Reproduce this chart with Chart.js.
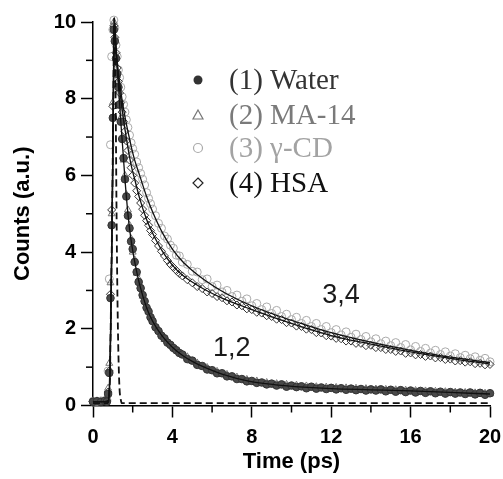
<!DOCTYPE html>
<html>
<head>
<meta charset="utf-8">
<script src="https://cdn.jsdelivr.net/npm/chart.js"></script>
<style>
  html, body { margin: 0; padding: 0; background: #fff; }
  #wrap { width: 503px; height: 479px; }
</style>
</head>
<body>
<div id="wrap"><canvas id="decay" width="503" height="479"></canvas></div>
<script>
// time axis of the measured points (ps)
const times = [
  0, 0.2, 0.4, 0.6, 0.7, 0.76, 0.82, 0.88, 0.94, 1.0,
  1.05, 1.1, 1.16, 1.22, 1.28, 1.34, 1.4, 1.47, 1.54, 1.61,
  1.68, 1.76, 1.84, 1.92, 2.0, 2.1, 2.2, 2.3, 2.4, 2.5,
  2.6, 2.7, 2.8, 2.9, 3.0, 3.15, 3.3, 3.45, 3.6, 3.75,
  3.9, 4.05, 4.2, 4.35, 4.5,
  4.75, 5.0, 5.25, 5.5, 5.75, 6.0, 6.25, 6.5, 6.75, 7.0,
  7.25, 7.5, 7.75, 8.0, 8.25, 8.5, 8.75, 9.0, 9.25, 9.5,
  9.75, 10.0, 10.25, 10.5, 10.75, 11.0, 11.25, 11.5, 11.75, 12.0,
  12.25, 12.5, 12.75, 13.0, 13.25, 13.5, 13.75, 14.0, 14.25, 14.5,
  14.75, 15.0, 15.25, 15.5, 15.75, 16.0, 16.25, 16.5, 16.75, 17.0,
  17.25, 17.5, 17.75, 18.0, 18.25, 18.5, 18.75, 19.0, 19.25, 19.5,
  19.75, 20.0
];

// (1) Water
const water = [
  0.10, 0.11, 0.09, 0.12, 0.10, 0.30, 0.85, 2.80, 4.70, 7.50,
  9.80, 9.50, 9.05, 8.65, 8.30, 7.85, 7.40, 6.95, 6.45, 5.90,
  5.45, 4.95, 4.62, 4.28, 4.08, 3.74, 3.48, 3.22, 3.06, 2.88,
  2.72, 2.55, 2.45, 2.30, 2.20, 2.04, 1.94, 1.82, 1.75, 1.64,
  1.58, 1.50, 1.44, 1.37, 1.33,
  1.21, 1.17, 1.06, 1.03, 0.94, 0.92, 0.84, 0.84, 0.76, 0.76,
  0.69, 0.69, 0.63, 0.64, 0.59, 0.60, 0.55, 0.57, 0.52, 0.55,
  0.49, 0.52, 0.48, 0.50, 0.45, 0.49, 0.44, 0.47, 0.43, 0.46,
  0.42, 0.45, 0.41, 0.44, 0.40, 0.43, 0.39, 0.42, 0.39, 0.42,
  0.37, 0.41, 0.36, 0.40, 0.35, 0.39, 0.34, 0.38, 0.33, 0.37,
  0.32, 0.36, 0.31, 0.35, 0.31, 0.34, 0.30, 0.34, 0.29, 0.33,
  0.28, 0.32
];

// (2) MA-14
const ma14 = [
  0.12, 0.10, 0.11, 0.10, 0.13, 0.45, 1.10, 3.20, 5.00, 7.90,
  10.0, 9.60, 9.10, 8.60, 8.20, 7.80, 7.50, 7.00, 6.40, 6.00,
  5.50, 5.10, 4.70, 4.35, 4.00, 3.80, 3.45, 3.30, 3.10, 2.85,
  2.75, 2.60, 2.45, 2.32, 2.20, 2.08, 1.95, 1.85, 1.72, 1.66,
  1.60, 1.52, 1.45, 1.39, 1.33,
  1.27, 1.15, 1.11, 1.01, 0.99, 0.90, 0.89, 0.81, 0.81, 0.73,
  0.74, 0.67, 0.68, 0.62, 0.64, 0.58, 0.60, 0.55, 0.57, 0.52,
  0.55, 0.50, 0.53, 0.48, 0.51, 0.46, 0.49, 0.45, 0.48, 0.44,
  0.47, 0.43, 0.46, 0.42, 0.45, 0.41, 0.44, 0.40, 0.43, 0.39,
  0.42, 0.38, 0.41, 0.37, 0.40, 0.36, 0.39, 0.35, 0.38, 0.34,
  0.37, 0.33, 0.36, 0.32, 0.35, 0.31, 0.34, 0.30, 0.33, 0.29,
  0.32, 0.30
];

// (3) gamma-CD
const gammaCD = [
  0.11, 0.10, 0.12, 0.13, 0.15, 0.90, 3.30, 6.80, 9.10, 9.80,
  10.05, 9.85, 9.40, 9.10, 8.75, 8.55, 8.30, 8.05, 7.85, 7.65,
  7.45, 7.25, 7.05, 6.85, 6.70, 6.55, 6.35, 6.20, 6.05, 5.90,
  5.75, 5.55, 5.40, 5.26, 5.12, 4.95, 4.75, 4.62, 4.42, 4.34,
  4.18, 4.10, 3.92, 3.90, 3.74,
  3.68, 3.50, 3.48, 3.28, 3.30, 3.10, 3.14, 2.96, 3.00, 2.84,
  2.88, 2.72, 2.78, 2.60, 2.66, 2.50, 2.57, 2.40, 2.48, 2.32,
  2.38, 2.24, 2.30, 2.14, 2.22, 2.06, 2.14, 1.98, 2.06, 1.90,
  1.98, 1.84, 1.92, 1.78, 1.86, 1.72, 1.80, 1.66, 1.74, 1.61,
  1.68, 1.56, 1.64, 1.51, 1.59, 1.45, 1.54, 1.41, 1.49, 1.37,
  1.44, 1.33, 1.40, 1.29, 1.35, 1.25, 1.31, 1.22, 1.27, 1.18,
  1.23, 1.14
];

// (4) HSA
const hsa = [
  0.10, 0.12, 0.10, 0.11, 0.12, 0.35, 0.90, 2.90, 5.10, 7.80,
  9.90, 9.60, 9.20, 8.80, 8.45, 8.15, 7.90, 7.65, 7.40, 7.15,
  6.90, 6.65, 6.40, 6.20, 6.00, 5.80, 5.60, 5.45, 5.28, 5.12,
  4.96, 4.82, 4.70, 4.56, 4.46, 4.30, 4.16, 4.02, 3.90, 3.78,
  3.68, 3.60, 3.52, 3.44, 3.38,
  3.28, 3.20, 3.10, 3.05, 2.96, 2.92, 2.84, 2.81, 2.73, 2.70,
  2.62, 2.60, 2.52, 2.50, 2.43, 2.41, 2.34, 2.32, 2.25, 2.24,
  2.16, 2.15, 2.07, 2.06, 1.99, 1.98, 1.90, 1.89, 1.82, 1.81,
  1.75, 1.74, 1.68, 1.68, 1.62, 1.62, 1.56, 1.57, 1.51, 1.51,
  1.46, 1.46, 1.41, 1.42, 1.36, 1.37, 1.32, 1.33, 1.28, 1.29,
  1.24, 1.25, 1.20, 1.21, 1.16, 1.17, 1.13, 1.14, 1.09, 1.10,
  1.06, 1.07
];

// fitted curves
const fitTimes = [0, 0.6, 0.77, 0.86, 0.91, 0.97, 1.02, 1.07, 1.12, 1.2, 1.3, 1.4, 1.5, 1.64, 1.8, 1.95, 2.1, 2.35, 2.7, 3.0, 3.5, 4.0, 4.5, 5.0, 5.6, 6.5, 7.9, 9.2, 10.6, 12, 14, 16, 18, 20];
const fit12 = [0.1, 0.1, 0.12, 1.0, 2.8, 5.1, 7.7, 10.1, 9.6, 8.9, 8.2, 7.4, 6.7, 5.7, 4.8, 4.2, 3.75, 3.15, 2.55, 2.2, 1.8, 1.52, 1.31, 1.15, 1.0, 0.82, 0.63, 0.54, 0.48, 0.44, 0.41, 0.38, 0.34, 0.3];
const fitCD = [0.1, 0.1, 0.12, 1.0, 2.8, 5.1, 7.7, 10.1, 9.7, 9.1, 8.6, 8.2, 7.85, 7.45, 7.05, 6.7, 6.4, 6.0, 5.45, 5.05, 4.5, 4.08, 3.76, 3.52, 3.28, 2.98, 2.62, 2.36, 2.12, 1.9, 1.65, 1.44, 1.26, 1.12];
const fitHSA = [0.1, 0.1, 0.12, 1.0, 2.8, 5.1, 7.7, 10.1, 9.6, 9.0, 8.4, 8.0, 7.6, 7.1, 6.6, 6.2, 5.9, 5.4, 4.85, 4.5, 4.02, 3.66, 3.4, 3.22, 3.03, 2.8, 2.52, 2.28, 2.04, 1.82, 1.6, 1.4, 1.23, 1.08];

// instrument response (dashed)
const irfTimes = [0, 0.7, 0.8, 0.86, 0.91, 0.97, 1.02, 1.07, 1.11, 1.15, 1.18, 1.22, 1.27, 1.33, 1.4, 1.46, 20];
const irf = [0.06, 0.06, 0.15, 1.0, 2.8, 5.2, 7.8, 10.1, 9.2, 7.4, 5.4, 3.3, 1.6, 0.5, 0.15, 0.06, 0.06];

const legendLabels = ['(1) Water', '(2) MA-14', '(3) \u03B3-CD', '(4) HSA'];
const xTicks = [0, 4, 8, 12, 16, 20];
const yTicks = [0, 2, 4, 6, 8, 10];

const pts = (xs, ys) => xs.map((x, i) => ({ x: x, y: ys[i] }));

const fitStyle = {
    type: 'line',
    borderColor: '#111',
    borderWidth: 1.3,
    pointRadius: 0,
    fill: false,
    cubicInterpolationMode: 'monotone'
};

const extras = {
    id: 'extras',
    afterDraw(chart) {
        const ctx = chart.ctx;
        const xs = chart.scales.x;
        const ys = chart.scales.y;
        const area = chart.chartArea;
        ctx.save();

        // minor ticks
        ctx.strokeStyle = '#000';
        ctx.lineWidth = 1.5;
        [1, 3, 5, 7, 9].forEach(v => {
            const py = ys.getPixelForValue(v);
            ctx.beginPath();
            ctx.moveTo(area.left - 7, py);
            ctx.lineTo(area.left, py);
            ctx.stroke();
        });
        [2, 6, 10, 14, 18].forEach(v => {
            const px = xs.getPixelForValue(v);
            ctx.beginPath();
            ctx.moveTo(px, area.bottom);
            ctx.lineTo(px, area.bottom + 7);
            ctx.stroke();
        });

        // curve labels
        ctx.fillStyle = '#1a1a1a';
        ctx.font = '27px "Liberation Sans", Arial, sans-serif';
        ctx.textBaseline = 'alphabetic';
        ctx.textAlign = 'left';
        ctx.fillText('1,2', xs.getPixelForValue(6.05), ys.getPixelForValue(1.29));
        ctx.fillText('3,4', xs.getPixelForValue(11.55), ys.getPixelForValue(2.67));

        // legend
        const rows = [80, 115, 148, 183];
        const textColors = ['#333', '#7a7a7a', '#a3a3a3', '#111'];
        const mx = 198;
        ctx.lineWidth = 1.2;
        ctx.fillStyle = '#333';
        ctx.beginPath();
        ctx.arc(mx, rows[0], 4.5, 0, Math.PI * 2);
        ctx.fill();
        ctx.strokeStyle = '#777';
        ctx.beginPath();
        ctx.moveTo(mx, rows[1] - 5);
        ctx.lineTo(mx + 5, rows[1] + 4);
        ctx.lineTo(mx - 5, rows[1] + 4);
        ctx.closePath();
        ctx.stroke();
        ctx.strokeStyle = '#aaa';
        ctx.beginPath();
        ctx.arc(mx, rows[2], 4.5, 0, Math.PI * 2);
        ctx.stroke();
        ctx.strokeStyle = '#222';
        ctx.beginPath();
        ctx.moveTo(mx, rows[3] - 5);
        ctx.lineTo(mx + 5, rows[3]);
        ctx.lineTo(mx, rows[3] + 5);
        ctx.lineTo(mx - 5, rows[3]);
        ctx.closePath();
        ctx.stroke();

        ctx.font = '29px "Liberation Serif", "Times New Roman", serif';
        ctx.textBaseline = 'middle';
        legendLabels.forEach((t, i) => {
            ctx.fillStyle = textColors[i];
            ctx.fillText(t, 229, rows[i] + 1);
        });
        ctx.restore();
    }
};

const tickFont = { family: '"Liberation Sans", Arial, sans-serif', size: 20, weight: 'bold' };
const titleFont = { family: '"Liberation Sans", Arial, sans-serif', size: 22, weight: 'bold' };

new Chart(document.getElementById('decay'), {
    type: 'scatter',
    data: {
        datasets: [
            Object.assign({}, fitStyle, {
                label: 'IRF',
                data: pts(irfTimes, irf),
                borderDash: [7, 4],
                borderWidth: 1.8
            }),
            Object.assign({}, fitStyle, { label: 'fit 1,2', data: pts(fitTimes, fit12) }),
            Object.assign({}, fitStyle, { label: 'fit 3', data: pts(fitTimes, fitCD) }),
            Object.assign({}, fitStyle, { label: 'fit 4', data: pts(fitTimes, fitHSA) }),
            {
                label: legendLabels[0],
                data: pts(times, water),
                pointStyle: 'circle',
                pointRadius: 3.8,
                backgroundColor: '#4a4a4a',
                borderColor: '#333',
                borderWidth: 1
            },
            {
                label: legendLabels[1],
                data: pts(times, ma14),
                pointStyle: 'triangle',
                pointRadius: 4,
                backgroundColor: 'rgba(0,0,0,0)',
                borderColor: '#777',
                borderWidth: 1
            },
            {
                label: legendLabels[3],
                data: pts(times, hsa),
                pointStyle: 'rectRot',
                pointRadius: 4,
                backgroundColor: 'rgba(0,0,0,0)',
                borderColor: '#333',
                borderWidth: 1
            },
            {
                label: legendLabels[2],
                data: pts(times, gammaCD),
                pointStyle: 'circle',
                pointRadius: 4,
                backgroundColor: 'rgba(0,0,0,0)',
                borderColor: '#aaa',
                borderWidth: 1
            }
        ]
    },
    options: {
        responsive: false,
        animation: false,
        clip: false,
        layout: { padding: { left: 7, right: 13, top: 22, bottom: 0 } },
        plugins: {
            legend: { display: false },
            tooltip: { enabled: false }
        },
        scales: {
            x: {
                type: 'linear',
                min: 0,
                max: 20,
                afterBuildTicks: axis => { axis.ticks = xTicks.map(v => ({ value: v })); },
                afterFit: axis => {
                    axis.height = 73.5;
                    axis.paddingLeft = 0;
                    axis.paddingRight = 0;
                },
                ticks: { font: tickFont, color: '#000', padding: 8 },
                grid: { drawOnChartArea: false, tickLength: 12, tickColor: '#000', tickWidth: 1.5 },
                border: { color: '#000', width: 1.5 },
                title: { display: true, text: 'Time (ps)', font: titleFont, color: '#000', padding: { top: 1, bottom: 4 } }
            },
            y: {
                min: 0,
                max: 10,
                afterBuildTicks: axis => { axis.ticks = yTicks.map(v => ({ value: v })); },
                afterFit: axis => { axis.width = 86; },
                ticks: { font: tickFont, color: '#000', padding: 5 },
                grid: { drawOnChartArea: false, tickLength: 12, tickColor: '#000', tickWidth: 1.5 },
                border: { color: '#000', width: 1.5 },
                title: { display: true, text: 'Counts (a.u.)', font: titleFont, color: '#000', padding: { top: 3, bottom: 4 } }
            }
        }
    },
    plugins: [extras]
});
</script>
</body>
</html>
